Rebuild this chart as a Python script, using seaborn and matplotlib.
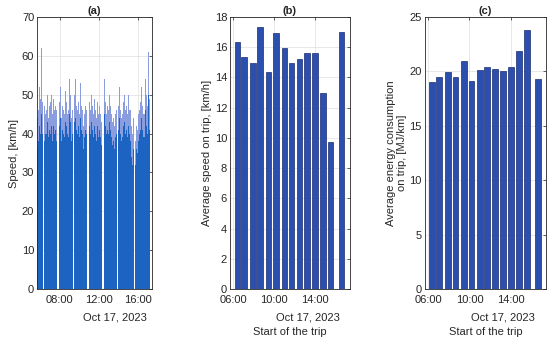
import matplotlib
matplotlib.use("Agg")
import matplotlib.pyplot as plt
import seaborn as sns
import pandas as pd
import numpy as np
from matplotlib.ticker import FixedLocator, FuncFormatter

# (a) speed record, 5-minute bins from 05:40 (peak and typical speed per bin, km/h)
speed_start = "05:40"
speed_step_min = 5
speed_peak = [0, 44, 46, 52, 49, 62, 50, 48, 0, 47, 45, 48,
              46, 50, 44, 47, 52, 48, 50, 45, 49, 46, 44, 47,
              46, 0, 0, 45, 48, 52, 44, 47, 46, 43, 45, 51,
              48, 45, 47, 46, 54, 50, 44, 46, 0, 0, 50, 54,
              47, 44, 46, 48, 45, 53, 47, 44, 46, 42, 45, 47,
              44, 46, 0, 0, 48, 44, 46, 50, 47, 45, 49, 52,
              46, 44, 48, 45, 52, 47, 45, 43, 0, 0, 49, 54,
              48, 45, 47, 44, 46, 50, 47, 45, 43, 46, 44, 42,
              45, 46, 0, 0, 47, 52, 46, 44, 47, 45, 48, 50,
              46, 44, 47, 45, 50, 46, 0, 46, 42, 40, 44, 0,
              0, 38, 42, 41, 45, 43, 46, 48, 52, 47, 45, 48,
              45, 54, 50, 47, 51, 61, 49, 0]
speed_body = [0, 36, 38, 42, 40, 45, 42, 40, 0, 38, 40, 41,
              40, 43, 39, 41, 44, 40, 42, 38, 42, 40, 38, 41,
              38, 0, 0, 39, 42, 44, 38, 41, 40, 37, 39, 43,
              42, 40, 41, 39, 45, 43, 38, 40, 0, 0, 43, 44,
              41, 39, 40, 42, 39, 44, 41, 38, 40, 36, 39, 41,
              38, 40, 0, 0, 42, 38, 40, 43, 41, 39, 42, 44,
              40, 38, 42, 39, 44, 41, 39, 37, 0, 0, 42, 45,
              42, 40, 41, 38, 40, 43, 41, 39, 37, 40, 38, 36,
              39, 40, 0, 0, 41, 44, 40, 38, 41, 39, 42, 43,
              40, 38, 41, 39, 42, 40, 0, 38, 34, 32, 36, 0,
              0, 32, 36, 35, 38, 37, 40, 41, 44, 41, 39, 42,
              39, 46, 42, 40, 43, 50, 41, 0]

# (b), (c) per-trip values
trip_start = ["06:24", "07:02", "07:56", "08:38", "09:28", "10:11", "11:00",
              "11:41", "12:29", "13:13", "14:01", "14:46", "15:32", "16:36"]
trip_avg_speed = [16.37, 15.33, 14.98, 17.36, 14.38, 16.92, 15.97,
                  14.98, 15.22, 15.60, 15.62, 12.95, 9.70, 17.03]
trip_energy = [19.05, 19.49, 19.94, 19.50, 20.98, 19.15, 20.10,
               20.38, 20.19, 20.07, 20.40, 21.90, 23.78, 19.27]

date_label = "Oct 17, 2023"
speed_ticks = [8, 12, 16]
trip_ticks = [6, 10, 14]


def to_hours(hhmm):
    return pd.to_timedelta(hhmm + ":00").total_seconds() / 3600


t0 = to_hours(speed_start)
speed_df = pd.DataFrame({
    "hour": t0 + np.arange(len(speed_peak)) * speed_step_min / 60,
    "peak": speed_peak,
    "body": speed_body,
})
trip_df = pd.DataFrame({
    "hour": [to_hours(s) for s in trip_start],
    "speed": trip_avg_speed,
    "energy": trip_energy,
})

sns.set_theme(style="white")
plt.rcParams["font.family"] = ["Liberation Sans", "DejaVu Sans"]
ink = "#262626"
plt.rcParams.update({"text.color": ink, "axes.labelcolor": ink,
                     "xtick.color": ink, "ytick.color": ink})

fig = plt.figure(figsize=(5.5, 3.43), dpi=100)
ax1 = fig.add_axes([0.0673, 0.1574, 0.209, 0.793])
ax2 = fig.add_axes([0.418, 0.1574, 0.218, 0.793])
ax3 = fig.add_axes([0.772, 0.1574, 0.221, 0.793])

hfmt = FuncFormatter(lambda v, p: f"{int(round(v)):02d}:00")
fs = 8

# (a) speed
sns.barplot(data=speed_df, x="hour", y="peak", native_scale=True, width=1.0,
            color="#8a9ddf", saturation=1, edgecolor="none", errorbar=None, ax=ax1)
sns.barplot(data=speed_df, x="hour", y="body", native_scale=True, width=1.0,
            color="#1d63c2", saturation=1, edgecolor="none", errorbar=None, ax=ax1)
ax1.set_ylim(0, 70)
ax1.set_yticks(range(0, 71, 10))
ax1.xaxis.set_major_locator(FixedLocator(speed_ticks))
ax1.set_ylabel("Speed, [km/h]", fontsize=fs, labelpad=2)
ax1.set_xlabel("")
ax1.set_title("(a)", fontsize=fs, fontweight="bold", pad=2)

# (b) average trip speed
sns.barplot(data=trip_df, x="hour", y="speed", native_scale=True, width=0.85,
            color="#2b4fae", saturation=1, edgecolor="#1c2c6e", linewidth=0.5,
            errorbar=None, ax=ax2)
ax2.set_ylim(0, 18)
ax2.set_yticks(range(0, 19, 2))
ax2.xaxis.set_major_locator(FixedLocator(trip_ticks))
ax2.set_ylabel("Average speed on trip, [km/h]", fontsize=fs, labelpad=2)
ax2.set_title("(b)", fontsize=fs, fontweight="bold", pad=2)

# (c) energy consumption
sns.barplot(data=trip_df, x="hour", y="energy", native_scale=True, width=0.85,
            color="#2b4fae", saturation=1, edgecolor="#1c2c6e", linewidth=0.5,
            errorbar=None, ax=ax3)
ax3.set_ylim(0, 25)
ax3.set_yticks(range(0, 26, 5))
ax3.xaxis.set_major_locator(FixedLocator(trip_ticks))
ax3.set_ylabel("Average energy consumption\non trip, [MJ/km]", fontsize=fs,
               labelpad=2, linespacing=1.1)
ax3.set_title("(c)", fontsize=fs, fontweight="bold", pad=2)

for ax, dx in [(ax1, 0.96), (ax2, 0.92), (ax3, 0.91)]:
    ax.set_xlim(5.667, 17.4)
    ax.xaxis.set_major_formatter(hfmt)
    ax.grid(True, color="#dedede", linewidth=0.5)
    ax.set_axisbelow(True)
    ax.tick_params(direction="in", length=2, width=0.5, labelsize=fs,
                   top=True, right=True)
    ax.tick_params(axis="x", pad=4.5)
    ax.tick_params(axis="y", pad=2)
    for sp in ax.spines.values():
        sp.set_color(ink)
        sp.set_linewidth(0.6)
    ax.text(dx, -0.105, date_label, transform=ax.transAxes, ha="right",
            va="center", fontsize=fs)

for ax in (ax2, ax3):
    ax.set_xlabel("Start of the trip", fontsize=fs)
    ax.xaxis.set_label_coords(0.5, -0.14)

fig.savefig("out.png", dpi=100)
